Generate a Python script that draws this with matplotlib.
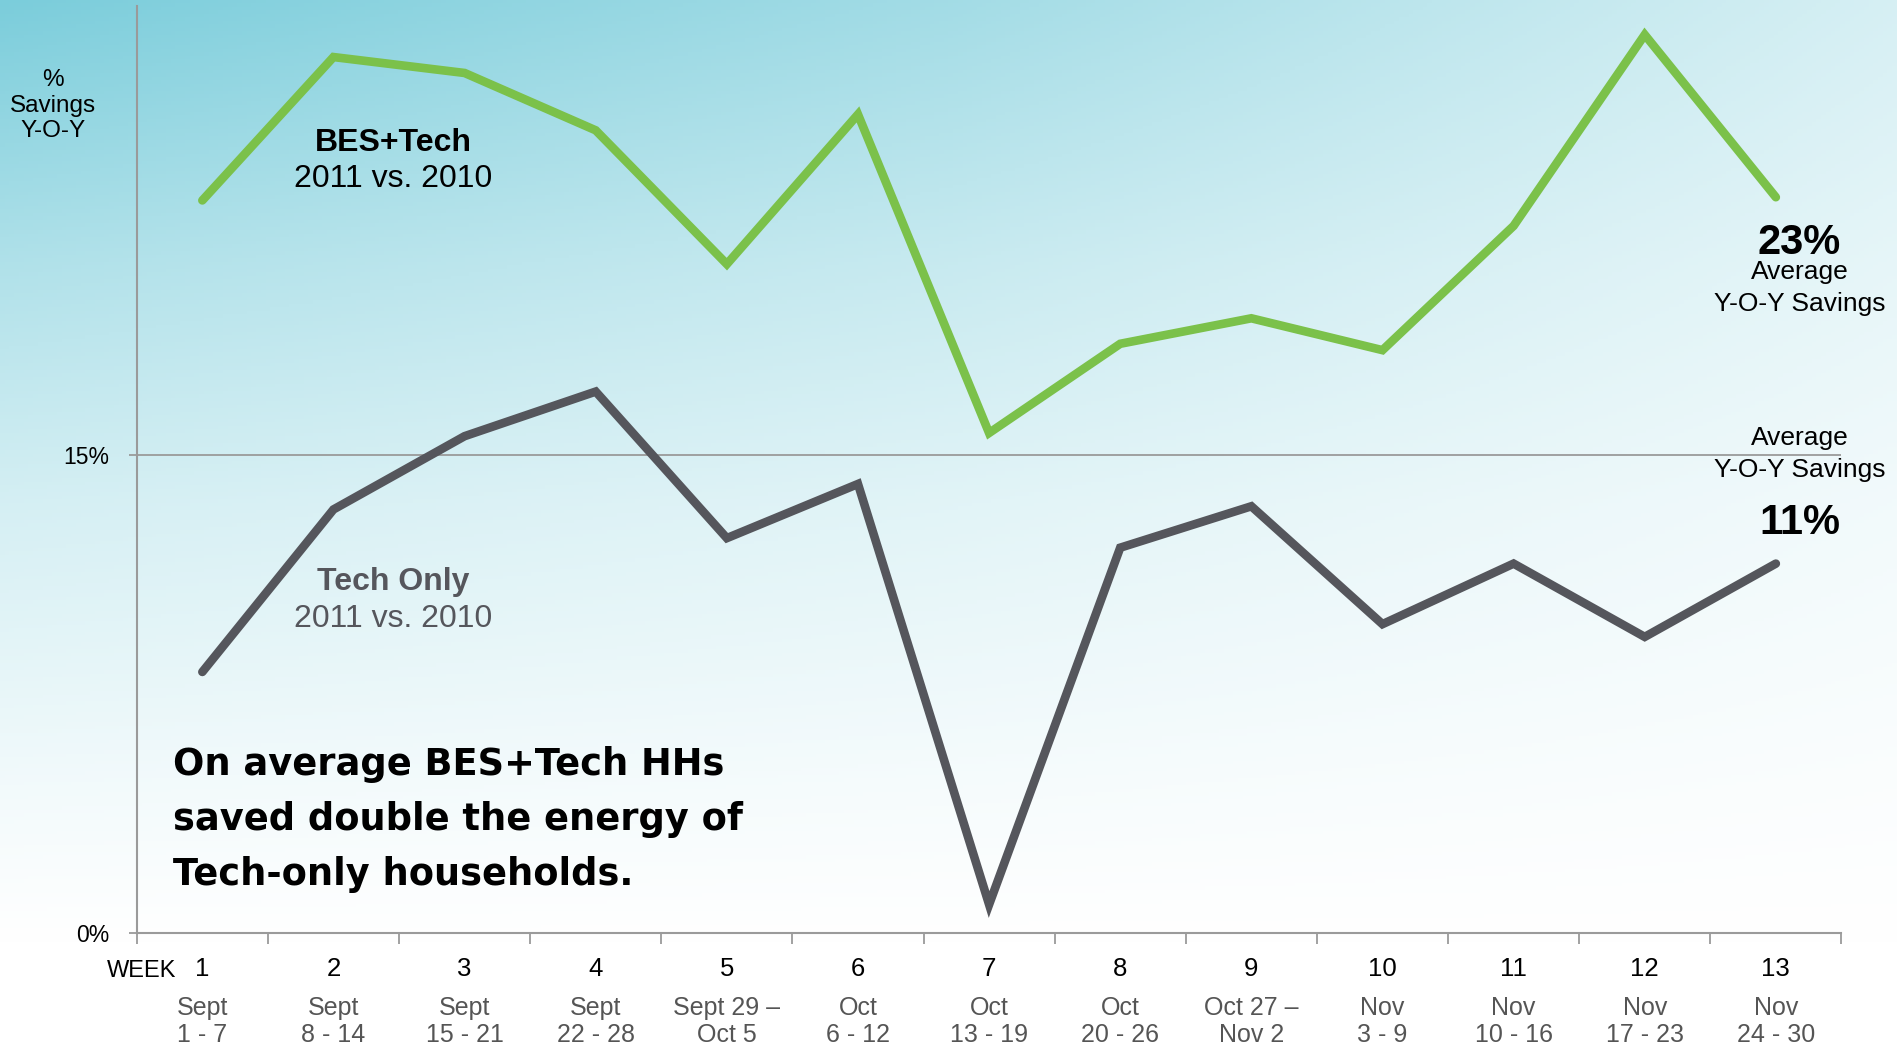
import numpy as np
import matplotlib
matplotlib.use("Agg")
import matplotlib.pyplot as plt
from matplotlib.colors import to_rgb

plt.rcParams['font.family'] = ['Liberation Sans', 'DejaVu Sans']

# data (% savings year over year)
weeks = list(range(1, 14))
week_dates = ["Sept\n1 - 7", "Sept\n8 - 14", "Sept\n15 - 21", "Sept\n22 - 28",
              "Sept 29 \u2013\nOct 5", "Oct\n6 - 12", "Oct\n13 - 19", "Oct\n20 - 26",
              "Oct 27 \u2013\nNov 2", "Nov\n3 - 9", "Nov\n10 - 16", "Nov\n17 - 23",
              "Nov\n24 - 30"]
bes_tech = [23.0, 27.5, 27.0, 25.2, 21.0, 25.7, 15.7, 18.5, 19.3, 18.3, 22.2, 28.2, 23.1]
tech_only = [8.2, 13.3, 15.6, 17.0, 12.4, 14.1, 0.9, 12.1, 13.4, 9.7, 11.6, 9.3, 11.6]
avg_bes = 23
avg_tech = 11

green = "#7bc14a"
dark = "#55565c"
axis_gray = "#9a9a9a"

fig = plt.figure(figsize=(18.97, 10.47), dpi=100)

# background gradient: teal in the top-left fading to white
bg = fig.add_axes([0, 0, 1, 1], zorder=-10)
gx = np.linspace(0, 1, 400)
gy = np.linspace(0, 1, 300)
fx = np.interp(gx, [0, 0.5, 1], [1, 0.7, 0.31])
fy = np.interp(gy, [0, 0.25, 0.48, 0.75, 0.9, 1], [1, 0.6, 0.32, 0.1, 0.0, 0.0])
f = fy[:, None] * fx[None, :]
teal = np.array(to_rgb("#7bcddb"))
img = 1 - f[..., None] * (1 - teal)
bg.imshow(img, aspect='auto', extent=[0, 1, 0, 1], origin='upper')
bg.axis('off')

ax = fig.add_axes([0.0721, 0.1087, 0.8986, 0.8855])
ax.patch.set_alpha(0)

ax.plot(weeks, bes_tech, color=green, lw=6.2, solid_capstyle='round', solid_joinstyle='miter', zorder=3)
ax.plot(weeks, tech_only, color=dark, lw=6.2, solid_capstyle='round', solid_joinstyle='miter', zorder=3)
ax.axhline(15, color=axis_gray, lw=1.3, zorder=1)

ax.set_xlim(0.5, 13.5)
ax.set_ylim(0, 29.1)
for s in ['top', 'right']:
    ax.spines[s].set_visible(False)
for s in ['left', 'bottom']:
    ax.spines[s].set_color(axis_gray)
    ax.spines[s].set_linewidth(1.5)

ax.set_yticks([0, 15], ["0%", "15%"], fontsize=16.5)
ax.tick_params(axis='y', length=6, width=1.3, color=axis_gray, pad=14)

ax.set_xticks(weeks, [str(w) for w in weeks], fontsize=18.5)
ax.tick_params(axis='x', which='major', length=0, pad=17)
ax.set_xticks(np.arange(0.5, 14, 1), minor=True)
ax.tick_params(axis='x', which='minor', length=8, width=1.3, color=axis_gray)

trans = ax.get_xaxis_transform()
ax.text(0.537, -0.0405, "WEEK", transform=trans, ha='center', va='center', fontsize=17)
for w, d in zip(weeks, week_dates):
    ax.text(w, -0.095, d, transform=trans, ha='center', va='center', fontsize=18,
            color="#555555", linespacing=1.13)

fig.text(0.028, 0.899, "%\nSavings\nY-O-Y", ha='center', va='center', fontsize=17.5, linespacing=1.22)

ax.text(2.456, 24.8, "BES+Tech", ha='center', va='center', fontsize=23, fontweight='bold', color='black')
ax.text(2.456, 23.66, "2011 vs. 2010", ha='center', va='center', fontsize=23, color='black')
ax.text(2.456, 11.01, "Tech Only", ha='center', va='center', fontsize=23, fontweight='bold', color=dark)
ax.text(2.456, 9.87, "2011 vs. 2010", ha='center', va='center', fontsize=23, color=dark)

ax.text(13.18, 21.66, f"{avg_bes}%", ha='center', va='center', fontsize=30, fontweight='bold')
ax.text(13.18, 20.74, "Average", ha='center', va='center', fontsize=19)
ax.text(13.18, 19.75, "Y-O-Y Savings", ha='center', va='center', fontsize=19)
ax.text(13.18, 15.53, "Average", ha='center', va='center', fontsize=19)
ax.text(13.18, 14.55, "Y-O-Y Savings", ha='center', va='center', fontsize=19)
ax.text(13.18, 12.89, f"{avg_tech}%", ha='center', va='center', fontsize=30, fontweight='bold')

ax.text(0.777, 3.57, "On average BES+Tech HHs\nsaved double the energy of\nTech-only households.",
        ha='left', va='center', fontsize=26.5, fontweight='bold', family='DejaVu Sans',
        linespacing=1.62, clip_on=False)

fig.savefig("out.png", dpi=100)
